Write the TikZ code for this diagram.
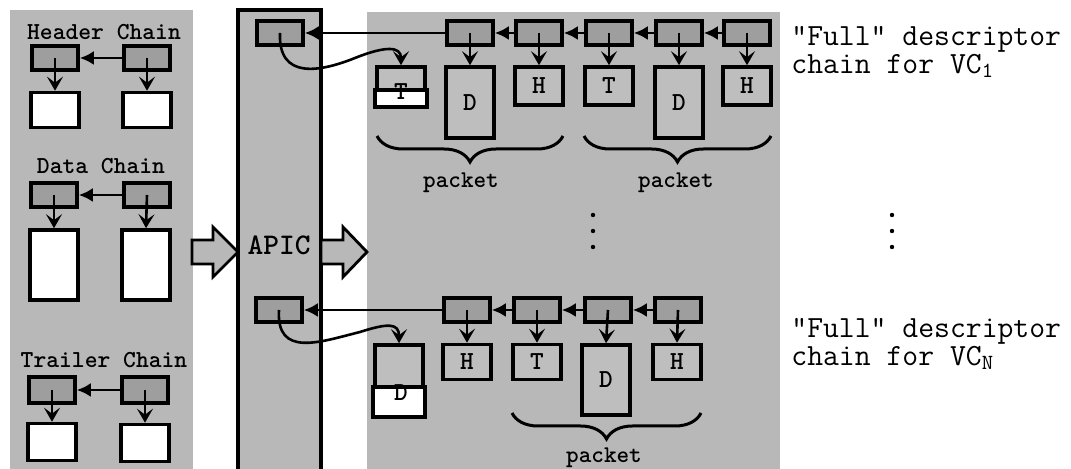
\documentclass[tikz,border=0pt]{standalone}
\usepackage{fontspec}
\usepackage{tikz}
\usetikzlibrary{arrows.meta, calc, decorations.pathreplacing}
\definecolor{panelgray}{RGB}{184,184,184}
\definecolor{descgray} {RGB}{158,158,158}
\definecolor{bufgray}  {RGB}{190,190,190}
\tikzset{
  desc/.style={draw, line width=1.8pt, fill=descgray, minimum width=23pt, minimum height=12pt, inner sep=0pt},
  buf/.style={draw, line width=1.8pt, fill=white, minimum width=24pt, inner sep=0pt},
  gbuf/.style={buf, fill=bufgray, font=\ttfamily\bfseries\fontsize{13}{13}\selectfont},
  link/.style={-{Latex[length=7pt,width=7pt]}, line width=1.3pt},
  ptr/.style={-{Stealth[length=7pt,width=8pt,inset=3pt]}, line width=1.3pt},
  blockarrow/.style={draw, line width=1.4pt, fill=panelgray, line join=miter},
  chainlbl/.style={font=\ttfamily\bfseries\fontsize{12.2}{13}\selectfont},
  pktlbl/.style={font=\ttfamily\bfseries\fontsize{12}{13}\selectfont},
  note/.style={anchor=north west, align=left, inner sep=0pt, font=\ttfamily\fontsize{15.4}{12}\selectfont},
  pbrace/.style={decorate, decoration={brace, mirror, amplitude=13pt}, line width=1.5pt}
}

\begin{document}
\begin{tikzpicture}[x=0.5pt, y=-0.5pt]
  \useasboundingbox (0,0) rectangle (1071,469);
  % panels
  \fill[panelgray] (10,10) rectangle (193,469);
  \fill[panelgray] (238,10) rectangle (321,469);
  \draw[line width=1.6pt] (238,469) -- (238,10) -- (321,10) -- (321,469);
  \fill[panelgray] (367,12) rectangle (780,469);
  % block arrows between panels
  \draw[blockarrow] (192,240) -- (213,240) -- (213,227) -- (238,252) -- (213,277) -- (213,264) -- (192,264) -- cycle;
  \draw[blockarrow] (321,240) -- (343,240) -- (343,227) -- (367,252) -- (343,277) -- (343,264) -- (321,264) -- cycle;

  % header chain
  \node[chainlbl] (hdrlbl) at (104,32) {Header Chain};
  \node[desc] (hd1) at (55,58) {};
  \node[desc] (hd2) at (147,58) {};
  \node[buf, minimum height=17.5pt] (hb1) at (55,110) {};
  \node[buf, minimum height=17.5pt] (hb2) at (147,110) {};
  \draw[link] (hd2.west) -- (hd1.east);
  \draw[ptr] (hd1.center) -- (hb1.north);
  \draw[ptr] (hd2.center) -- (hb2.north);
  % data chain
  \node[chainlbl] (datlbl) at (101,166) {Data Chain};
  \node[desc] (dd1) at (54,195) {};
  \node[desc] (dd2) at (147,195) {};
  \node[buf, minimum height=35pt] (db1) at (54,265) {};
  \node[buf, minimum height=35pt] (db2) at (146,265) {};
  \draw[link] (dd2.west) -- (dd1.east);
  \draw[ptr] (dd1.center) -- (db1.north);
  \draw[ptr] (dd2.center) -- (db2.north);
  % trailer chain
  \node[chainlbl] (trllbl) at (104,360) {Trailer Chain};
  \node[desc, minimum height=13pt] (td1) at (52,390) {};
  \node[desc, minimum height=13pt] (td2) at (145,390) {};
  \node[buf, minimum height=18.5pt] (tb1) at (52,442) {};
  \node[buf, minimum height=18.5pt] (tb2) at (145,443) {};
  \draw[link] (td2.west) -- (td1.east);
  \draw[ptr] (td1.center) -- (tb1.north);
  \draw[ptr] (td2.center) -- (tb2.north);

  % APIC
  \node[font=\ttfamily\bfseries\fontsize{15}{16}\selectfont] (apic) at (279,245) {APIC};
  \node[desc] (ad1) at (280,33) {};
  \node[desc] (ad2) at (279,310) {};

  % full chain for VC1
  \node[desc] (v1) at (470,33) {};
  \node[desc] (v2) at (539,33) {};
  \node[desc] (v3) at (609,33) {};
  \node[desc] (v4) at (679,33) {};
  \node[desc] (v5) at (747,33) {};
  \node[gbuf, minimum height=19pt] (t1) at (401,86) {};
  \draw[line width=1.8pt, fill=white] ($(t1.east)+(0,4)$) rectangle (t1.south west);
  \node[font=\ttfamily\bfseries\fontsize{13}{13}\selectfont] (t1lbl) at (401,92) {T};
  \node[gbuf, minimum height=35.5pt] (bd1) at (470,102.5) {D};
  \node[gbuf, minimum height=19pt] (bh1) at (539,86) {H};
  \node[gbuf, minimum height=19pt] (bt2) at (609,86) {T};
  \node[gbuf, minimum height=35.5pt] (bd2) at (679,102.5) {D};
  \node[gbuf, minimum height=19pt] (bh2) at (747,86) {H};
  \draw[link] (v5.west) -- (v4.east);
  \draw[link] (v4.west) -- (v3.east);
  \draw[link] (v3.west) -- (v2.east);
  \draw[link] (v2.west) -- (v1.east);
  \draw[link] (v1.west) -- (ad1.east);
  \draw[ptr] (v1.center) -- (bd1.north);
  \draw[ptr] (v2.center) -- (bh1.north);
  \draw[ptr] (v3.center) -- (bt2.north);
  \draw[ptr] (v4.center) -- (bd2.north);
  \draw[ptr] (v5.center) -- (bh2.north);
  \draw[ptr] (ad1.center) .. controls (278,80) and (320,72) .. (355,58)
    .. controls (385,46) and (401,46) .. (t1.north);
  \draw[pbrace] (377,136) -- (563,136);
  \draw[pbrace] (584,136) -- (771,136);
  \node[pktlbl] (pkt1) at (461,183) {packet};
  \node[pktlbl] (pkt2) at (676,183) {packet};

  % dots
  \foreach \y in {215,231,247} {
    \fill (593,\y) circle (1.1pt);
    \fill (892,\y) circle (1.1pt);
  }

  % full chain for VCN
  \node[desc] (w1) at (467,310) {};
  \node[desc] (w2) at (537,310) {};
  \node[desc] (w3) at (608,310) {};
  \node[desc] (w4) at (678,310) {};
  \node[gbuf, minimum height=35pt] (d0) at (399,380) {};
  \draw[line width=1.8pt, fill=white] ($(d0.east)+(0,7)$) rectangle (d0.south west);
  \node[font=\ttfamily\bfseries\fontsize{13}{13}\selectfont] (d0lbl) at (401,393) {D};
  \node[gbuf, minimum height=17.5pt] (wh1) at (467,362) {H};
  \node[gbuf, minimum height=17.5pt] (wt1) at (537,362) {T};
  \node[gbuf, minimum height=35pt] (wd1) at (606,380) {D};
  \node[gbuf, minimum height=17.5pt] (wh2) at (677,362) {H};
  \draw[link] (w4.west) -- (w3.east);
  \draw[link] (w3.west) -- (w2.east);
  \draw[link] (w2.west) -- (w1.east);
  \draw[link] (w1.west) -- (ad2.east);
  \draw[ptr] (w1.center) -- (wh1.north);
  \draw[ptr] (w2.center) -- (wt1.north);
  \draw[ptr] (w3.center) -- (wd1.north);
  \draw[ptr] (w4.center) -- (wh2.north);
  \draw[ptr] (ad2.center) .. controls (276,358) and (320,342) .. (360,332)
    .. controls (388,323) and (399,323) .. (d0.north);
  \draw[pbrace] (512,413) -- (701,413);
  \node[pktlbl] (pkt3) at (604,458) {packet};

  % side notes
  \node[note] (note1) at (791,26) {“Full” descriptor\\chain for VC\textsubscript{1}};
  \node[note] (noten) at (791,318) {“Full” descriptor\\chain for VC\textsubscript{N}};
\end{tikzpicture}
\end{document}
